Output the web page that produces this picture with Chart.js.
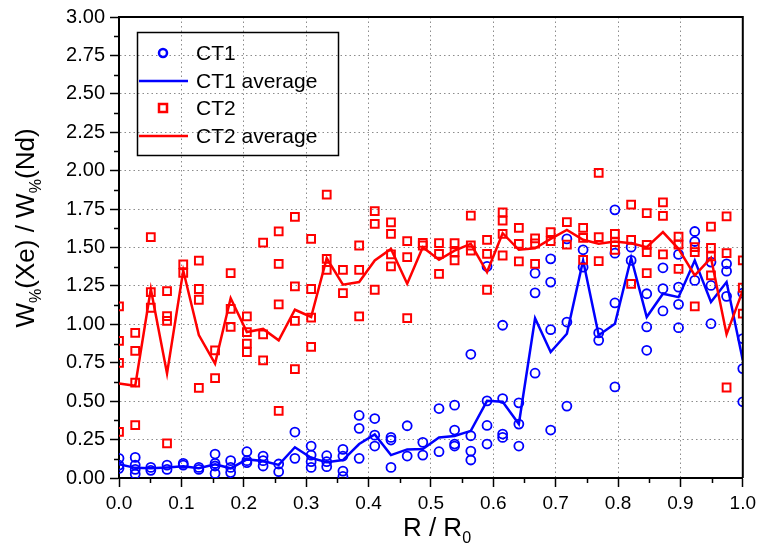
<!DOCTYPE html>
<html>
<head>
<meta charset="utf-8">
<script src="https://cdn.jsdelivr.net/npm/chart.js@4.4.0/dist/chart.umd.min.js"></script>
<style>
  html, body { margin: 0; padding: 0; background: #fff; }
</style>
</head>
<body>
<canvas id="chartRatio" width="761" height="556"></canvas>
<script>
// R / R0 positions of the measurement columns
const radius = [0, 0.026, 0.051, 0.077, 0.103, 0.128, 0.154, 0.179, 0.205, 0.231,
  0.256, 0.282, 0.308, 0.333, 0.359, 0.385, 0.41, 0.436, 0.462, 0.487,
  0.513, 0.538, 0.564, 0.59, 0.615, 0.641, 0.667, 0.692, 0.718, 0.744,
  0.769, 0.795, 0.821, 0.846, 0.872, 0.897, 0.923, 0.949, 0.974, 1.0];

// individual points, one list per column
const ct1Values = [
  [0.128, 0.084, 0.063], [0.134, 0.084, 0.056, 0.026], [0.069, 0.05], [0.084, 0.056],
  [0.095, 0.084], [0.069, 0.056], [0.156, 0.095, 0.078, 0.03], [0.113, 0.069, 0.035],
  [0.171, 0.113, 0.10], [0.143, 0.113, 0.078], [0.091, 0.041], [0.299, 0.128],
  [0.208, 0.149, 0.106, 0.069], [0.145, 0.106, 0.074], [0.186, 0.143, 0.045, 0.01],
  [0.407, 0.323, 0.128], [0.387, 0.279, 0.208], [0.264, 0.247, 0.069], [0.34, 0.143],
  [0.232, 0.149], [0.452, 0.171], [0.474, 0.312, 0.221, 0.208], [0.805, 0.275, 0.175, 0.117],
  [1.377, 0.502, 0.342, 0.221], [0.994, 0.517, 0.286, 0.264], [0.489, 0.351, 0.208],
  [1.333, 1.205, 0.682], [1.426, 1.275, 0.965, 0.312], [1.556, 1.015, 0.468],
  [1.485, 1.372], [0.944, 0.896], [1.745, 1.463, 1.139, 0.593], [1.502, 1.416],
  [1.199, 0.983, 0.831], [1.368, 1.232, 1.087], [1.455, 1.242, 1.13, 0.978],
  [1.604, 1.539, 1.286], [1.405, 1.253, 1.004], [1.394, 1.346, 1.182],
  [1.203, 0.907, 0.712, 0.496]
];
const ct1Average = [0.09, 0.066, 0.063, 0.069, 0.076, 0.063, 0.09, 0.063, 0.121, 0.11,
  0.085, 0.2, 0.131, 0.103, 0.117, 0.221, 0.284, 0.149, 0.186, 0.188,
  0.264, 0.273, 0.307, 0.502, 0.496, 0.351, 1.04, 0.82, 0.939, 1.416,
  0.929, 1.004, 1.433, 1.048, 1.199, 1.177, 1.416, 1.145, 1.275, 0.766];

const ct2Values = [
  [1.117, 0.892, 0.749, 0.30], [0.944, 0.827, 0.621, 0.344], [1.567, 1.21, 1.108],
  [1.216, 1.054, 1.022, 0.225], [1.39, 1.335], [1.415, 1.23, 1.16, 0.587], [0.83, 0.65],
  [1.333, 1.10, 0.983], [1.052, 0.95, 0.874, 0.82], [1.532, 0.935, 0.766],
  [1.605, 1.394, 1.13, 0.437], [1.70, 1.247, 1.022, 0.708], [1.556, 1.23, 1.043, 0.853],
  [1.844, 1.426, 1.355], [1.355, 1.203], [1.513, 1.355, 1.052], [1.736, 1.654, 1.225],
  [1.663, 1.589, 1.455, 1.377], [1.541, 1.437, 1.041], [1.53, 1.513], [1.528, 1.459, 1.329],
  [1.528, 1.47, 1.416], [1.708, 1.513, 1.48], [1.55, 1.459, 1.225],
  [1.729, 1.675, 1.589, 1.448], [1.628, 1.524, 1.409], [1.56, 1.526, 1.394],
  [1.6, 1.541], [1.665, 1.519], [1.628, 1.563, 1.42], [1.985, 1.567, 1.411],
  [1.589, 1.535, 1.485], [1.779, 1.55, 1.264], [1.723, 1.517, 1.47, 1.333],
  [1.794, 1.706, 1.455], [1.571, 1.519, 1.361], [1.502, 1.47, 1.117],
  [1.636, 1.498, 1.442, 1.318], [1.703, 1.463, 0.589], [1.416, 1.238, 1.069]
];
const ct2Average = [0.615, 0.60, 1.23, 0.68, 1.35, 0.93, 0.745, 1.17, 0.95, 0.97,
  0.896, 1.095, 1.048, 1.43, 1.258, 1.275, 1.416, 1.491, 1.264, 1.502,
  1.42, 1.48, 1.524, 1.34, 1.593, 1.485, 1.495, 1.556, 1.615, 1.55,
  1.524, 1.539, 1.528, 1.502, 1.6, 1.491, 1.318, 1.433, 0.935, 1.221];

const BLUE = '#0000ff';
const RED = '#ff0000';
const FONT = "'Liberation Sans', Arial, sans-serif";

function toPoints(cols) {
  const pts = [];
  cols.forEach((col, i) => col.forEach(v => pts.push({ x: radius[i], y: v })));
  return pts;
}
function toLine(vals) {
  return vals.map((v, i) => ({ x: radius[i], y: v }));
}

// text with subscript parts, centred on x
function drawRich(ctx, parts, x, y, size) {
  let total = 0;
  parts.forEach(p => {
    ctx.font = (p.sub ? size * 0.62 : size) + 'px ' + FONT;
    p.w = ctx.measureText(p.t).width;
    total += p.w;
  });
  let cx = x - total / 2;
  ctx.textAlign = 'left';
  ctx.textBaseline = 'alphabetic';
  parts.forEach(p => {
    ctx.font = (p.sub ? size * 0.62 : size) + 'px ' + FONT;
    ctx.fillText(p.t, cx, p.sub ? y + size * 0.28 : y);
    cx += p.w;
  });
}

const framePlugin = {
  id: 'frame',
  afterDatasetsDraw(chart) {
    const { ctx, chartArea: a, scales } = chart;
    ctx.save();
    ctx.strokeStyle = '#000';
    ctx.lineWidth = 2;
    ctx.beginPath();
    ctx.moveTo(a.left, a.top); ctx.lineTo(a.right, a.top); ctx.lineTo(a.right, a.bottom);
    ctx.stroke();
    // minor ticks
    ctx.lineWidth = 1.5;
    ctx.beginPath();
    for (let k = 0; k < 10; k++) {
      const px = Math.round(scales.x.getPixelForValue(0.05 + k * 0.1)) + 0.5;
      ctx.moveTo(px, a.bottom); ctx.lineTo(px, a.bottom + 5);
    }
    for (let k = 0; k < 12; k++) {
      const py = Math.round(scales.y.getPixelForValue(0.125 + k * 0.25)) + 0.5;
      ctx.moveTo(a.left, py); ctx.lineTo(a.left - 5, py);
    }
    ctx.stroke();
    ctx.restore();
  },
  afterDraw(chart) {
    const ctx = chart.ctx;
    ctx.save();
    ctx.fillStyle = '#000';
    // x title
    drawRich(ctx, [{ t: 'R / R' }, { t: '0', sub: true }], 437, 536, 26);
    // y title
    ctx.translate(34, 228);
    ctx.rotate(-Math.PI / 2);
    drawRich(ctx, [{ t: 'W' }, { t: '%', sub: true }, { t: '(Xe) / W' }, { t: '%', sub: true }, { t: '(Nd)' }], 0, 0, 26);
    ctx.restore();

    // legend box
    ctx.save();
    ctx.strokeStyle = '#000';
    ctx.lineWidth = 1.5;
    ctx.strokeRect(137.5, 32.5, 201, 123);
    const rows = [53, 81, 108, 136];
    chart.data.datasets.forEach((ds, i) => {
      const y = rows[i];
      ctx.strokeStyle = ds.borderColor;
      if (ds.showLine) {
        ctx.lineWidth = 2.5;
        ctx.beginPath(); ctx.moveTo(139, y); ctx.lineTo(188, y); ctx.stroke();
      } else if (ds.pointStyle === 'circle') {
        ctx.lineWidth = 2.5;
        ctx.beginPath(); ctx.arc(163, y, 4, 0, Math.PI * 2); ctx.stroke();
      } else {
        ctx.lineWidth = 2.5;
        ctx.strokeRect(159, y - 4, 8, 8);
      }
      ctx.fillStyle = '#000';
      ctx.font = '21px ' + FONT;
      ctx.textAlign = 'left';
      ctx.textBaseline = 'middle';
      ctx.fillText(ds.label, 196, y + 1);
    });
    ctx.restore();
  }
};

const gridOpts = {
  color: '#8c8c8c',
  lineWidth: 1,
  tickColor: '#000',
  tickWidth: 1.5,
  tickLength: 9
};

new Chart(document.getElementById('chartRatio').getContext('2d'), {
  type: 'scatter',
  data: {
    datasets: [{
      label: 'CT1',
      data: toPoints(ct1Values),
      pointStyle: 'circle',
      pointRadius: 4.5,
      borderWidth: 1.8,
      borderColor: BLUE,
      backgroundColor: 'rgba(0,0,0,0)',
      clip: 0,
      order: 3
    }, {
      label: 'CT1 average',
      data: toLine(ct1Average),
      showLine: true,
      pointRadius: 0,
      borderWidth: 2.5,
      borderColor: BLUE,
      clip: 0,
      order: 2
    }, {
      label: 'CT2',
      data: toPoints(ct2Values),
      pointStyle: 'rect',
      pointRadius: 5.5,
      borderWidth: 2,
      borderColor: RED,
      backgroundColor: 'rgba(0,0,0,0)',
      clip: 0,
      order: 1
    }, {
      label: 'CT2 average',
      data: toLine(ct2Average),
      showLine: true,
      pointRadius: 0,
      borderWidth: 2.5,
      borderColor: RED,
      clip: 0,
      order: 0
    }]
  },
  options: {
    responsive: false,
    animation: false,
    layout: { padding: { top: 16, right: 16, left: 0, bottom: 0 } },
    plugins: {
      legend: { display: false },
      tooltip: { enabled: false }
    },
    scales: {
      x: {
        type: 'linear',
        min: 0,
        max: 1,
        afterFit: s => { s.height = 78; },
        ticks: {
          stepSize: 0.1,
          padding: 5,
          color: '#000',
          font: { family: FONT, size: 19 },
          callback: v => v.toFixed(1)
        },
        grid: gridOpts,
        border: { color: '#000', width: 2, dash: [1.5, 3] }
      },
      y: {
        type: 'linear',
        min: 0,
        max: 3,
        afterFit: s => { s.width = 119; },
        ticks: {
          stepSize: 0.25,
          padding: 5,
          color: '#000',
          font: { family: FONT, size: 20 },
          callback: v => v.toFixed(2)
        },
        grid: gridOpts,
        border: { color: '#000', width: 2, dash: [1.5, 3] }
      }
    }
  },
  plugins: [framePlugin]
});
</script>
</body>
</html>
